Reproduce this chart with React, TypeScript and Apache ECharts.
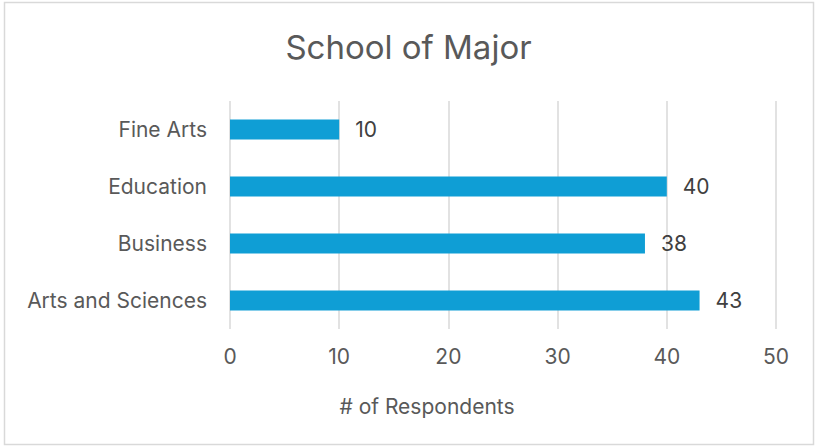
import React, { useEffect, useRef } from "react";
import * as echarts from "echarts";

const categories = ["Arts and Sciences", "Business", "Education", "Fine Arts"];
const values = [43, 38, 40, 10];
const titleText = "School of Major";
const axisTitle = "# of Respondents";

export default function App() {
  const ref = useRef<HTMLDivElement>(null);
  useEffect(() => {
    const chart = echarts.init(ref.current!, null, { renderer: "svg" });
    const font = "Inter, 'Open Sans', sans-serif";
    chart.setOption({
      animation: false,
      backgroundColor: "#ffffff",
      textStyle: { fontFamily: font },
      title: {
        text: titleText,
        left: "center",
        top: 25,
        textStyle: { fontSize: 33, fontWeight: "normal", color: "#595959", fontFamily: font },
      },
      graphic: [
        {
          type: "rect",
          shape: { x: 4.5, y: 2.5, width: 809, height: 442 },
          style: { fill: "none", stroke: "#d9d9d9", lineWidth: 1.5 },
          silent: true,
        },
        {
          type: "text",
          x: 427,
          y: 406,
          style: {
            text: axisTitle,
            fontSize: 21,
            fill: "#595959",
            fontFamily: font,
            textAlign: "center",
            textVerticalAlign: "middle",
          },
          silent: true,
        },
      ],
      grid: { left: 230, right: 41, top: 101, bottom: 118 },
      xAxis: {
        type: "value",
        min: 0,
        max: 50,
        interval: 10,
        axisLine: { show: false },
        axisTick: { show: false },
        axisLabel: { fontSize: 21, color: "#595959", margin: 17, fontFamily: font },
        splitLine: { show: true, lineStyle: { color: "#d9d9d9", width: 1.5 } },
      },
      yAxis: {
        type: "category",
        data: categories,
        axisLine: { show: false },
        axisTick: { show: false },
        axisLabel: { fontSize: 21, color: "#595959", margin: 23, fontFamily: font },
      },
      series: [
        {
          type: "bar",
          data: values,
          barWidth: "35%",
          itemStyle: { color: "#0f9ed5" },
          label: {
            show: true,
            position: "right",
            distance: 16,
            fontSize: 21,
            color: "#404040",
            fontFamily: font,
          },
        },
      ],
    });
    return () => chart.dispose();
  }, []);
  return (
    <div
      ref={ref}
      style={{ position: "fixed", left: 0, top: 0, width: 817, height: 447 }}
    />
  );
}
